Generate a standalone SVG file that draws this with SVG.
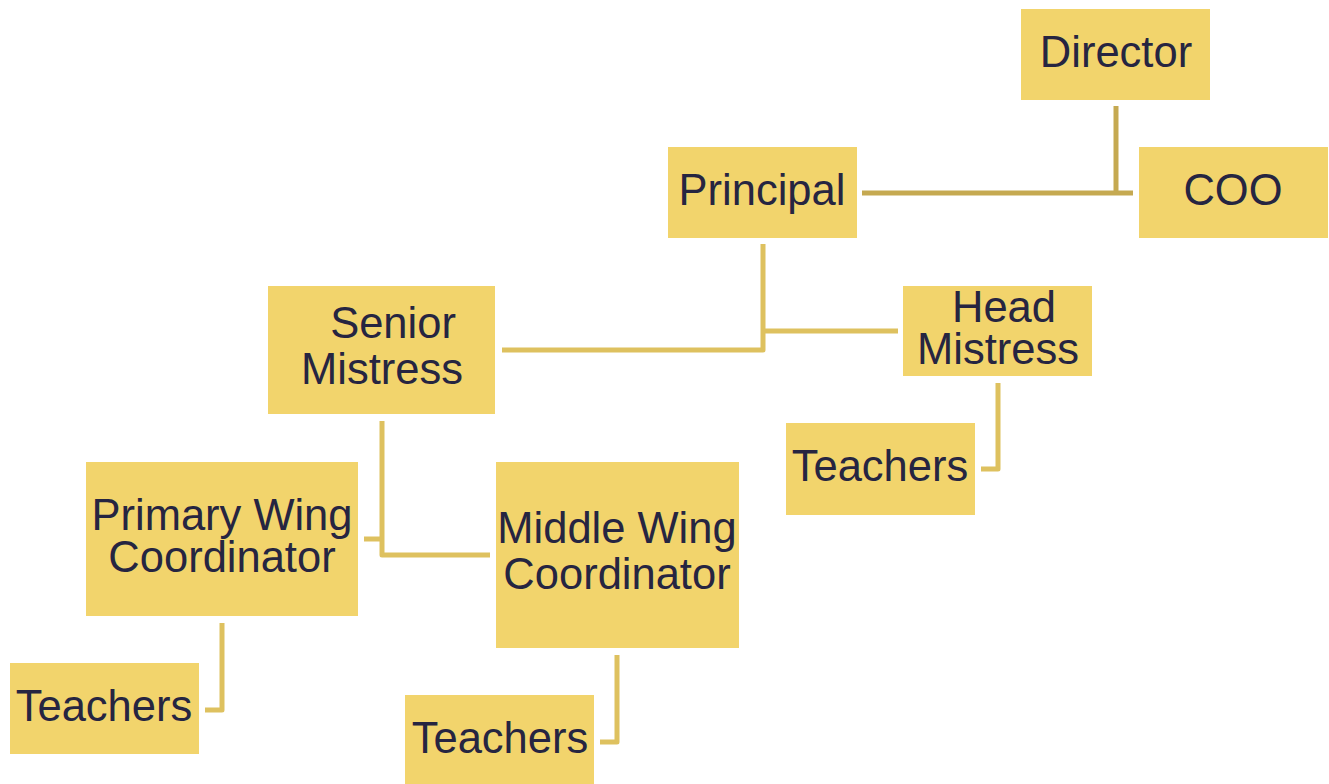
<svg xmlns="http://www.w3.org/2000/svg" width="1329" height="784" viewBox="0 0 1329 784">
<style>
.box{fill:#F2D46C;}
.t{font-family:"Liberation Sans",Arial,sans-serif;font-size:43.5px;fill:#262541;text-anchor:middle;}
.c{fill:none;stroke:#DEC15F;stroke-width:5;stroke-linejoin:round;}
.cd{fill:none;stroke:#C5A951;stroke-width:5;}
</style>
<rect width="1329" height="784" fill="#FFFFFF"/>
<g id="connectors">
<path class="cd" d="M1116 106 V193"/>
<path class="cd" d="M862 193 H1133"/>
<path class="c" d="M763 244 V350 H502"/>
<path class="c" d="M763 331 H898"/>
<path class="c" d="M998 383 V469 H981"/>
<path class="c" d="M382 421 V555 H490"/>
<path class="c" d="M364 539 H382"/>
<path class="c" d="M222 623 V710 H205"/>
<path class="c" d="M617 655 V742 H600"/>
</g>
<g id="director"><rect class="box" x="1021" y="9" width="189" height="91"/><text class="t" x="1116" y="67">Director</text></g>
<g id="coo"><rect class="box" x="1139" y="147" width="189" height="91"/><text class="t" x="1233" y="205">COO</text></g>
<g id="principal"><rect class="box" x="668" y="147" width="189" height="91"/><text class="t" x="762" y="205">Principal</text></g>
<g id="senior-mistress"><rect class="box" x="268" y="286" width="227" height="128"/><text class="t" x="393" y="338">Senior</text><text class="t" x="382" y="384">Mistress</text></g>
<g id="head-mistress"><rect class="box" x="903" y="286" width="189" height="90"/><text class="t" x="1004" y="322">Head</text><text class="t" x="998" y="364">Mistress</text></g>
<g id="teachers-head"><rect class="box" x="786" y="423" width="189" height="92"/><text class="t" x="880" y="481">Teachers</text></g>
<g id="primary-wing"><rect class="box" x="86" y="462" width="272" height="154"/><text class="t" x="222" y="530">Primary Wing</text><text class="t" x="222" y="572">Coordinator</text></g>
<g id="middle-wing"><rect class="box" x="496" y="462" width="243" height="186"/><text class="t" x="617" y="543">Middle Wing</text><text class="t" x="617" y="589">Coordinator</text></g>
<g id="teachers-primary"><rect class="box" x="10" y="663" width="189" height="91"/><text class="t" x="104" y="721">Teachers</text></g>
<g id="teachers-middle"><rect class="box" x="405" y="695" width="189" height="89"/><text class="t" x="500" y="753">Teachers</text></g>
</svg>
